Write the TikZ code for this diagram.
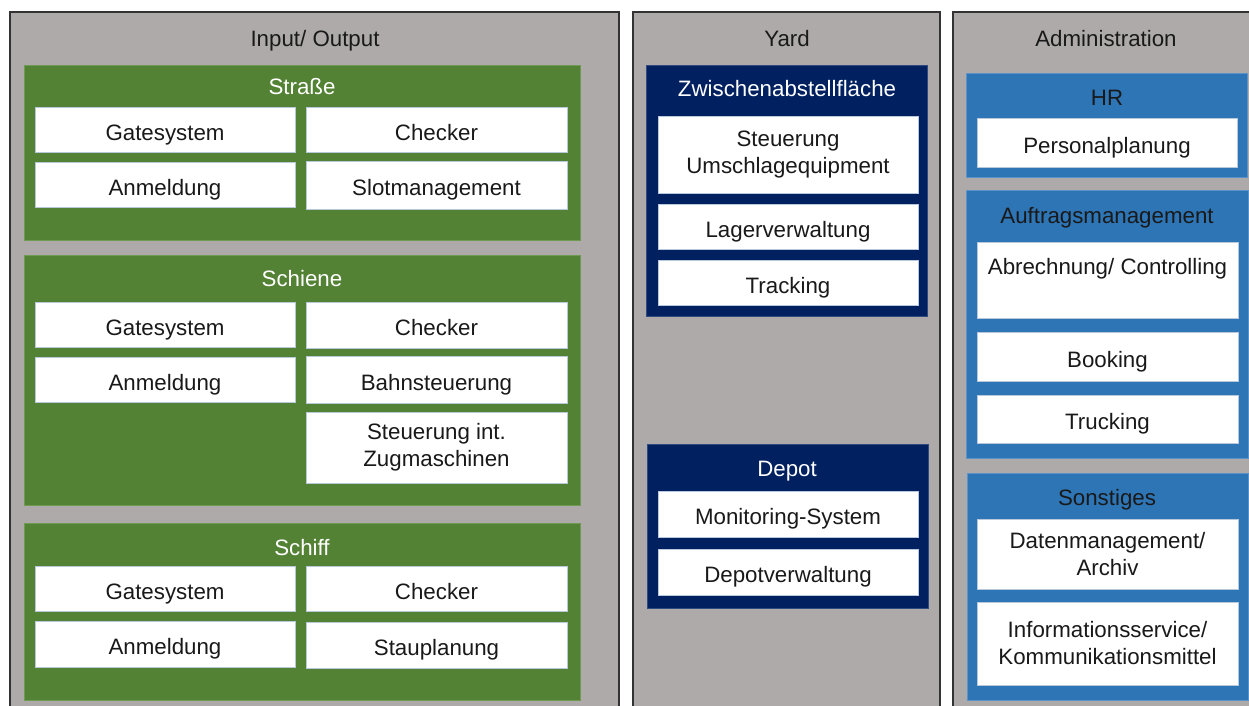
\documentclass[tikz,border=0pt]{standalone}
\usepackage{fontspec}
\setmainfont{Liberation Sans}
\definecolor{panelgray}{HTML}{AEAAAA}
\definecolor{grn}{HTML}{548235}
\definecolor{grnedge}{HTML}{6E9A52}
\definecolor{navy}{HTML}{002060}
\definecolor{navyedge}{HTML}{2F4A80}
\definecolor{blu}{HTML}{2E75B6}
\definecolor{bluedge}{HTML}{5B93C8}
\definecolor{whedge}{HTML}{B8C8DC}
\tikzset{
  base/.style={rectangle, inner sep=0pt, outer sep=0pt, align=center,
    font=\fontsize{22.3}{27}\selectfont},
  oneline/.style={text height=21pt, text depth=0pt},
  panel/.style={base, fill=panelgray, draw=black!80, line width=1.2pt, anchor=north west},
  grpgreen/.style={base, fill=grn, draw=grnedge, line width=0.8pt, anchor=north west},
  grpnavy/.style={base, fill=navy, draw=navyedge, line width=0.8pt, anchor=north west},
  grpblue/.style={base, fill=blu, draw=bluedge, line width=0.8pt, anchor=north west},
  item/.style={base, fill=white, draw=whedge, line width=0.6pt, text=black!90},
  ptitle/.style={base, oneline, text=black!90},
  wtitle/.style={base, oneline, text=white},
  btitle/.style={base, oneline, text=black!90},
}
\newcommand{\bx}[7]{%
  \pgfmathsetmacro{\bxw}{#4-#2}\pgfmathsetmacro{\bxh}{#5-#3}%
  \pgfmathsetmacro{\bxx}{(#2+#4)/2}\pgfmathsetmacro{\bxy}{(#3+#5)/2}%
  \node[#6, minimum width=\bxw pt, minimum height=\bxh pt] (#1) at (\bxx,\bxy) {#7};}
\newcommand{\grp}[6]{%
  \pgfmathsetmacro{\bxw}{#4-#2}\pgfmathsetmacro{\bxh}{#5-#3}%
  \node[#6, minimum width=\bxw pt, minimum height=\bxh pt] (#1) at (#2,#3) {};}
\begin{document}
\begin{tikzpicture}[x=1pt,y=-1pt]
\useasboundingbox (0,0) rectangle (1249,706);
\clip (0,0) rectangle (1249,706);
\fill[white] (0,0) rectangle (1249,706);
% panels
\grp{pio}{10}{12}{619}{730}{panel}
\grp{pyard}{633}{12}{940}{730}{panel}
\grp{padm}{953}{12}{1270}{730}{panel}
\node[ptitle] (tio) at (315,36.5) {Input/ Output};
\node[ptitle] (tyard) at (787,36.5) {Yard};
\node[ptitle] (tadm) at (1106,36.5) {Administration};
% Strasse
\grp{gstr}{24}{65}{580}{240}{grpgreen}
\node[wtitle] (tstr) at (302,84.5) {Straße};
\bx{g1}{35}{107}{295}{152}{item,oneline}{Gatesystem}
\bx{c1}{306}{107}{567}{152}{item,oneline}{Checker}
\bx{a1}{35}{162}{295}{207}{item,oneline}{Anmeldung}
\bx{s1}{306}{161}{567}{209}{item,oneline}{Slotmanagement}
% Schiene
\grp{gsch}{24}{255}{580}{505}{grpgreen}
\node[wtitle] (tsch) at (302,275.5) {Schiene};
\bx{g2}{35}{302}{295}{347}{item,oneline}{Gatesystem}
\bx{c2}{306}{302}{567}{348}{item,oneline}{Checker}
\bx{a2}{35}{357}{295}{402}{item,oneline}{Anmeldung}
\bx{b2}{306}{356}{567}{403}{item,oneline}{Bahnsteuerung}
\bx{z2}{306}{412}{567}{483}{item}{Steuerung int.\\Zugmaschinen}
% Schiff
\grp{gsf}{24}{523}{580}{700}{grpgreen}
\node[wtitle] (tsf) at (302,544.5) {Schiff};
\bx{g3}{35}{566}{295}{611}{item,oneline}{Gatesystem}
\bx{c3}{306}{566}{567}{611}{item,oneline}{Checker}
\bx{a3}{35}{621}{295}{667}{item,oneline}{Anmeldung}
\bx{st3}{306}{622}{567}{668}{item,oneline}{Stauplanung}
% Yard
\grp{gzw}{646}{65}{927}{316}{grpnavy}
\node[wtitle] (tzw) at (787,86) {Zwischenabstellfläche};
\bx{y1}{658}{116}{918}{193}{item}{Steuerung\\Umschlagequipment}
\bx{y2}{658}{204}{918}{249}{item,oneline}{Lagerverwaltung}
\bx{y3}{658}{260}{918}{305}{item,oneline}{Tracking}
\grp{gdep}{647}{444}{928}{608}{grpnavy}
\node[wtitle] (tdep) at (787,465.5) {Depot};
\bx{d1}{658}{491}{918}{537}{item,oneline}{Monitoring-System}
\bx{d2}{658}{549}{918}{595}{item,oneline}{Depotverwaltung}
% Administration
\grp{ghr}{966}{73}{1247}{177}{grpblue}
\node[btitle] (thr) at (1107,95.5) {HR};
\bx{h1}{977}{118}{1237}{167}{item,oneline}{Personalplanung}
\grp{gauf}{966}{190}{1248}{458}{grpblue}
\node[btitle] (tauf) at (1107,212.5) {Auftragsmanagement};
\bx{m1}{977}{242}{1238}{318}{item}{Abrechnung/ Controlling\\\mbox{}}
\bx{m2}{977}{332}{1238}{381}{item,oneline}{Booking}
\bx{m3}{977}{395}{1238}{443}{item,oneline}{Trucking}
\grp{gson}{967}{473}{1248}{700}{grpblue}
\node[btitle] (tson) at (1107,494.5) {Sonstiges};
\bx{o1}{977}{519}{1238}{589}{item}{Datenmanagement/\\Archiv}
\bx{o2}{977}{602}{1238}{685}{item}{Informationsservice/\\Kommunikationsmittel}
\end{tikzpicture}
\end{document}
